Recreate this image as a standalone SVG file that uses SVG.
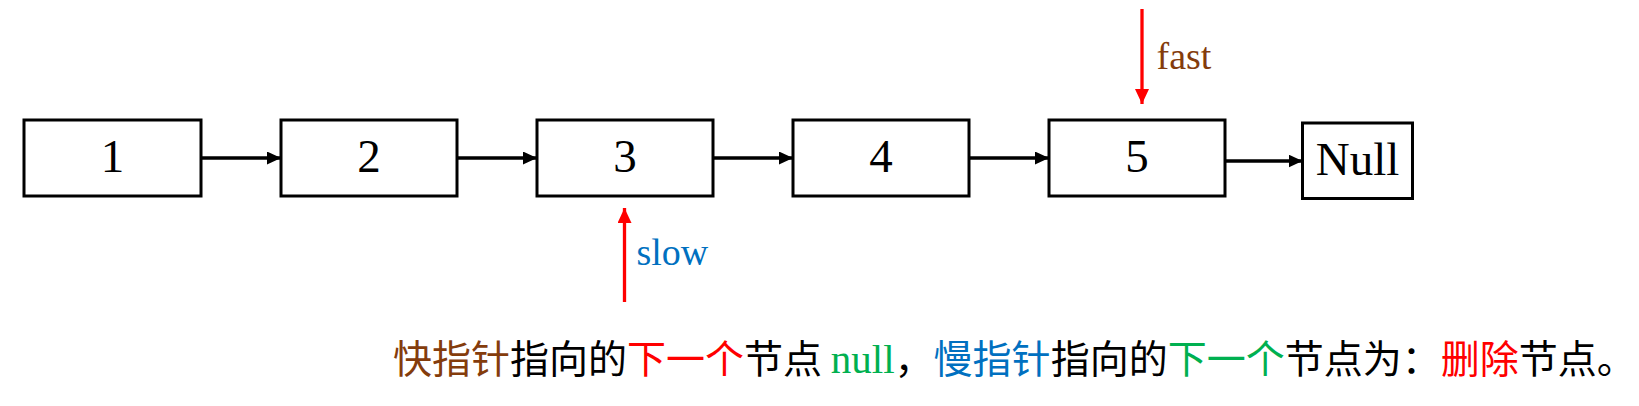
<svg xmlns="http://www.w3.org/2000/svg" width="1639" height="406" viewBox="0 0 1639 406">
<style>
.box{fill:#fff;stroke:#000;stroke-width:3}
.num{font-family:"Liberation Serif",serif;font-size:47px;text-anchor:middle;fill:#000}
.link{stroke:#000;stroke-width:3.5;fill:none}
.ptr{stroke:#FF0000;stroke-width:3.3;fill:none}
.lbl{font-family:"Liberation Serif",serif;font-size:38px}
.cap{font-family:"Noto Sans CJK SC",sans-serif;font-size:39px}
</style>
<defs>
<marker id="ak" viewBox="0 0 14 13" markerWidth="14" markerHeight="13" refX="14" refY="6.5" orient="auto" markerUnits="userSpaceOnUse"><path d="M0,0 L14,6.5 L0,13 Z" fill="#000"/></marker>
<marker id="ar" viewBox="0 0 15 14" markerWidth="15" markerHeight="14" refX="15" refY="7" orient="auto" markerUnits="userSpaceOnUse"><path d="M0,0 L15,7 L0,14 Z" fill="#FF0000"/></marker>
</defs>
<g id="node1"><rect class="box" x="24" y="120" width="177" height="76"/><text class="num" x="112.5" y="172">1</text></g>
<g id="node2"><rect class="box" x="281" y="120" width="176" height="76"/><text class="num" x="369" y="172">2</text></g>
<g id="node3"><rect class="box" x="537" y="120" width="176" height="76"/><text class="num" x="625" y="172">3</text></g>
<g id="node4"><rect class="box" x="793" y="120" width="176" height="76"/><text class="num" x="881" y="172">4</text></g>
<g id="node5"><rect class="box" x="1049" y="120" width="176" height="76"/><text class="num" x="1137" y="172">5</text></g>
<g id="nodeNull"><rect class="box" x="1302.5" y="123" width="110" height="75.5"/><text class="num" x="1357.5" y="175">Null</text></g>
<g id="connectors">
<line class="link" x1="201" y1="158" x2="281" y2="158" marker-end="url(#ak)"/>
<line class="link" x1="457" y1="158" x2="537" y2="158" marker-end="url(#ak)"/>
<line class="link" x1="713" y1="158" x2="793" y2="158" marker-end="url(#ak)"/>
<line class="link" x1="969" y1="158" x2="1049" y2="158" marker-end="url(#ak)"/>
<line class="link" x1="1225" y1="161" x2="1302.5" y2="161" marker-end="url(#ak)"/>
<line class="ptr" x1="1142" y1="9" x2="1142" y2="104" marker-end="url(#ar)"/>
<line class="ptr" x1="624.5" y1="302" x2="624.5" y2="208" marker-end="url(#ar)"/>
</g>
<g id="labels">
<text class="lbl" x="1156.5" y="69" fill="#843C0C">fast</text>
<text class="lbl" x="636.5" y="265" fill="#0070C0">slow</text>
<text class="cap" x="393" y="373"><tspan fill="#843C0C">快指针</tspan><tspan fill="#000">指向的</tspan><tspan fill="#FF0000">下一个</tspan><tspan fill="#000">节点 </tspan><tspan fill="#00B050" font-family="'Liberation Serif',serif" font-size="41px">null</tspan><tspan fill="#000">，</tspan><tspan fill="#0070C0">慢指针</tspan><tspan fill="#000">指向的</tspan><tspan fill="#00B050">下一个</tspan><tspan fill="#000">节点为：</tspan><tspan fill="#FF0000">删除</tspan><tspan fill="#000">节点。</tspan></text>
</g>
</svg>
